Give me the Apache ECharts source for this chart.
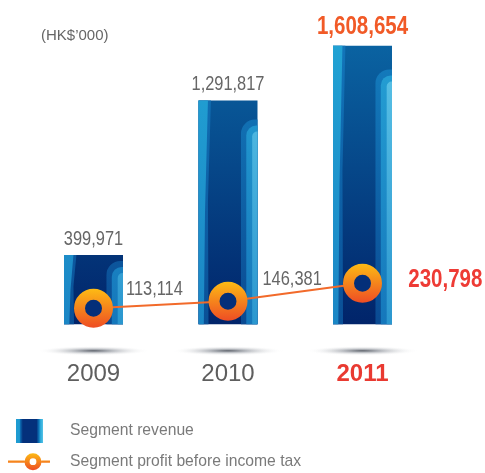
<!DOCTYPE html>
<html>
<head>
<meta charset="utf-8">
<style>
  html, body { margin: 0; padding: 0; background: #ffffff; }
  #chart { width: 485px; height: 473px; }
</style>
<script src="https://cdn.jsdelivr.net/npm/echarts@6/dist/echarts.min.js"></script>
</head>
<body>
<div id="chart"></div>
<script>
// Segment figures, HK$'000
const years = ['2009', '2010', '2011'];
const revenue = [399971, 1291817, 1608654];
const profit = [113114, 146381, 230798];
const unitLabel = '(HK$\u2019000)';
const revenueName = 'Segment revenue';
const profitName = 'Segment profit before income tax';

const SANS = '"Liberation Sans", Arial, sans-serif';
const NARROW_X = 0.82;               // horizontal squeeze for the figure labels
const HILITE = revenue.length - 1;   // latest year is emphasised
const BAR_W = 59;
const REV_MAX = 1800000;

const fmt = v => String(v).replace(/\B(?=(\d{3})+(?!\d))/g, ',');
const G = echarts.graphic;

function vgrad(y0, y1, c0, c1) {
  return new G.LinearGradient(0, y0, 0, y1, [
    { offset: 0, color: c0 }, { offset: 1, color: c1 }
  ], true);
}

// Striped glossy column, its floor shadow and its value label
function renderBar(params, api) {
  const i = api.value(0);
  const v = api.value(1);
  const top = api.coord([i, v]);
  const base = api.coord([i, 0]);
  const yTop = api.coord([i, REV_MAX])[1];
  const cx = top[0];
  const w = BAR_W;
  const x = cx - w / 2;
  const y = top[1];
  const h = base[1] - y;
  const off = h * 0.085;
  const hi = i === HILITE;

  const children = [
    {
      type: 'circle', x: cx, y: base[1] + 26.5, scaleY: 0.085,
      shape: { cx: 0, cy: 0, r: 56 },
      style: {
        fill: new G.RadialGradient(0.5, 0.5, 0.5, [
          { offset: 0, color: 'rgba(75,80,90,0.9)' },
          { offset: 0.35, color: 'rgba(120,126,136,0.5)' },
          { offset: 1, color: 'rgba(255,255,255,0)' }
        ])
      },
      silent: true
    },
    // dark body
    {
      type: 'rect', shape: { x: x, y: y, width: w, height: h },
      style: { fill: vgrad(yTop, base[1], '#0b6aa8', '#01246a') }
    },
    // left stripes, narrowing downward
    {
      type: 'polygon',
      shape: { points: [[x, y], [x + w * 0.21, y], [x + w * 0.16, y + h * 0.45], [x + w * 0.17, y + h], [x, y + h]] },
      style: { fill: vgrad(yTop, base[1], '#1379bd', '#0a4f96') }
    },
    {
      type: 'polygon',
      shape: { points: [[x, y], [x + w * 0.16, y], [x + w * 0.11, y + h * 0.5], [x + w * 0.09, y + h], [x, y + h]] },
      style: { fill: vgrad(yTop, base[1], '#22a5d5', '#1b86c5') }
    },
    // right stripes with rounded upper corner
    {
      type: 'rect',
      shape: { x: x + w * 0.72, y: y + off, width: w * 0.28, height: h - off, r: [14, 0, 0, 0] },
      style: { fill: vgrad(yTop, base[1], '#1584c4', '#0a4a92') }
    },
    {
      type: 'rect',
      shape: { x: x + w * 0.81, y: y + off + 6, width: w * 0.19, height: h - off - 6, r: [10, 0, 0, 0] },
      style: { fill: vgrad(yTop, base[1], '#27a6d8', '#1577bb') }
    },
    {
      type: 'rect',
      shape: { x: x + w * 0.91, y: y + off + 12, width: w * 0.09, height: h - off - 12, r: [5, 0, 0, 0] },
      style: { fill: vgrad(yTop, base[1], '#62c9ea', '#2b97cf') }
    },
    {
      type: 'text', x: cx, y: y - 6, scaleX: NARROW_X,
      style: {
        text: fmt(v),
        align: 'center', verticalAlign: 'bottom',
        fontFamily: SANS,
        fontSize: hi ? 25 : 20,
        fontWeight: hi ? 'bold' : 'normal',
        fill: hi ? '#f15a27' : '#666666'
      }
    }
  ];
  return { type: 'group', children: children };
}

// figure labels beside the profit points (offsets from the point)
const profitLabelOffset = [[32.5, -18.6], [34.5, -21.7], [45.8, -3.3]];

function renderProfitLabel(params, api) {
  const i = api.value(0);
  const v = api.value(1);
  const p = api.coord([i, v]);
  const o = profitLabelOffset[i];
  const hi = i === HILITE;
  return {
    type: 'text', x: p[0] + o[0], y: p[1] + o[1], scaleX: NARROW_X,
    style: {
      text: fmt(v),
      align: 'left', verticalAlign: 'middle',
      fontFamily: SANS,
      fontSize: hi ? 25 : 20,
      fontWeight: hi ? 'bold' : 'normal',
      fill: hi ? '#ee3b35' : '#666666'
    }
  };
}

const chart = echarts.init(document.getElementById('chart'), null, { renderer: 'canvas' });

const ringGrad = new G.LinearGradient(0, 0, 0, 1, [
  { offset: 0, color: '#fdbb14' }, { offset: 1, color: '#ee4d24' }
]);

// legend glyphs: a striped block, and a ring threaded on a line
const revenueIcon = 'path://M0,0h0.01M57,26h0.01M8,1h27v24h-27Z';
const profitIcon = 'path://M0,0h0.01M57,26h0.01' +
  'M0,11.9h16.6v2.2h-16.6Z' +
  'M33.4,11.9h8.6v2.2h-8.6Z' +
  'M16.5,13A8.5,8.5 0 0,1 33.5,13L28.4,13A3.4,3.4 0 0,0 21.6,13Z' +
  'M16.5,13A8.5,8.5 0 0,0 33.5,13L28.4,13A3.4,3.4 0 0,1 21.6,13Z';

const option = {
  animation: false,
  title: {
    text: unitLabel, left: 41, top: 28, padding: 0,
    textStyle: { fontFamily: SANS, fontSize: 15, fontWeight: 'normal', color: '#666666' }
  },
  legend: {
    orient: 'vertical', left: 8, top: 418, height: 80, padding: 0,
    itemWidth: 57, itemHeight: 26, itemGap: 4.7,
    selectedMode: false,
    textStyle: { fontFamily: SANS, fontSize: 15.7, color: '#7a7a7a' },
    data: [
      {
        name: revenueName,
        icon: revenueIcon,
        itemStyle: {
          borderWidth: 0,
          color: new G.LinearGradient(0, 0, 1, 0, [
            { offset: 0.14, color: '#1e9bd1' }, { offset: 0.2, color: '#1e9bd1' },
            { offset: 0.215, color: '#0c6db3' }, { offset: 0.26, color: '#04307b' },
            { offset: 0.5, color: '#04307b' }, { offset: 0.54, color: '#0d6fb4' },
            { offset: 0.57, color: '#2aa8d8' }, { offset: 0.614, color: '#55c3e7' }
          ])
        }
      },
      {
        name: profitName,
        icon: profitIcon,
        itemStyle: {
          borderWidth: 0,
          color: new G.LinearGradient(0, 0, 0, 1, [
            { offset: 0.17, color: '#fdbb14' }, { offset: 0.83, color: '#ee4d24' }
          ])
        }
      }
    ]
  },
  grid: { left: 26.25, right: 55.25, top: 12.6, bottom: 148.7 },
  xAxis: {
    type: 'category',
    data: years,
    axisLine: { show: false },
    axisTick: { show: false },
    axisLabel: {
      margin: 38,
      fontFamily: SANS, fontSize: 24, color: '#5e5e5e',
      formatter: (val, idx) => idx === HILITE ? '{hl|' + val + '}' : val,
      rich: { hl: { fontFamily: SANS, fontSize: 24, fontWeight: 'bold', color: '#e93a31' } }
    }
  },
  yAxis: [
    { type: 'value', min: 0, max: REV_MAX, show: false },
    { type: 'value', min: 37700, max: 1505200, show: false }
  ],
  series: [
    {
      name: revenueName,
      type: 'custom',
      renderItem: renderBar,
      z: 2,
      data: revenue.map((v, i) => [i, v])
    },
    {
      name: profitName,
      type: 'line',
      yAxisIndex: 1,
      z: 3,
      symbol: 'circle',
      symbolSize: 28,
      lineStyle: { color: '#f26a2a', width: 2 },
      itemStyle: { color: '#042f79', borderColor: ringGrad, borderWidth: 11 },
      emphasis: { disabled: true },
      data: profit
    },
    {
      name: profitName,
      type: 'custom',
      yAxisIndex: 1,
      z: 4,
      silent: true,
      renderItem: renderProfitLabel,
      data: profit.map((v, i) => [i, v])
    }
  ]
};

chart.setOption(option);
</script>
</body>
</html>
